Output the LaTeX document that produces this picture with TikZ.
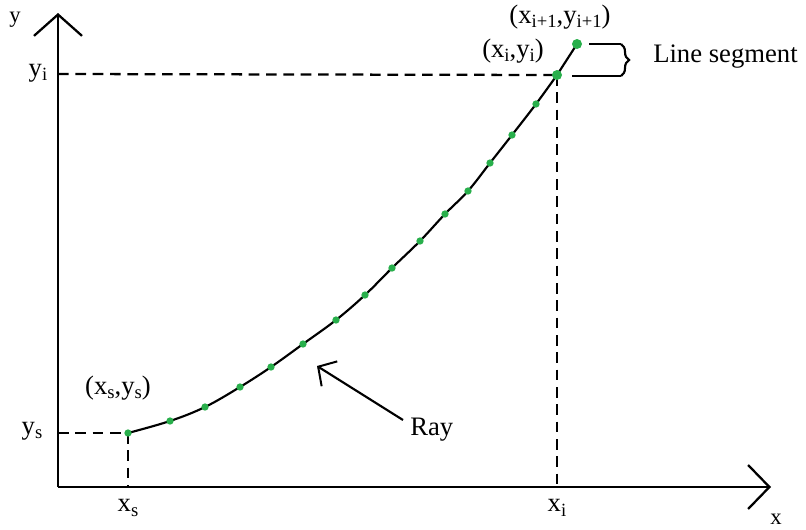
\documentclass[tikz,border=0pt]{standalone}
\usepackage{fontspec}
\setmainfont{Liberation Serif}
\usetikzlibrary{arrows.meta,decorations.pathreplacing}
\definecolor{dotgreen}{RGB}{40,175,75}
\newcommand\lsub[1]{\raisebox{-0.35ex}{\fontsize{14}{14}\selectfont #1}}
\tikzset{
  axis/.style={line width=2pt},
  dashline/.style={line width=1.7pt, dash pattern=on 8pt off 5pt},
  curve/.style={line width=1.6pt},
  pt/.style={circle, fill=dotgreen, inner sep=0pt, minimum size=5.5pt},
  bigpt/.style={circle, fill=dotgreen, inner sep=0pt, minimum size=7.5pt},
  lbl/.style={inner sep=0pt, font=\fontsize{20}{24}\selectfont},
  axlbl/.style={inner sep=0pt, font=\fontsize{17}{20}\selectfont},
}
\begin{document}
\begin{tikzpicture}[x=0.75pt,y=-0.75pt]
\useasboundingbox (0,0) rectangle (806,529);
% axes
\coordinate (O) at (58,487);
\coordinate (ytop) at (58,13);
\coordinate (xend) at (771,487);
\draw[axis,-{Straight Barb[length=16pt,width=36pt,line width=1.7pt]}] (O) -- (ytop);
\draw[axis,-{Straight Barb[length=16pt,width=33pt,line width=1.7pt]}] (O) -- (xend);
\node[axlbl] (ylab) at (15,20) {y};
\node[axlbl] (xlab) at (776,519) {x};
% points
\coordinate (p1) at (128,433);
\coordinate (p2) at (170,421);
\coordinate (p3) at (205,407);
\coordinate (p4) at (240,387);
\coordinate (p5) at (271,367);
\coordinate (p6) at (303,344);
\coordinate (p7) at (336,320);
\coordinate (p8) at (365,295);
\coordinate (p9) at (392,268);
\coordinate (p10) at (420,241);
\coordinate (p11) at (445,214);
\coordinate (p12) at (468,191);
\coordinate (p13) at (490,163);
\coordinate (p14) at (512,135);
\coordinate (p15) at (536,104);
\coordinate (p16) at (557,75);
\coordinate (p17) at (577,44);
% dashed guides
\coordinate (ys) at (58,433);
\coordinate (xs) at (128,487);
\coordinate (yi) at (58,74);
\coordinate (xi) at (557,487);
\draw[dashline] (ys) -- (p1);
\draw[dashline] (p1) -- (xs);
\draw[dashline] (yi) -- (p16);
\draw[dashline] (p16) -- (xi);
% curve
\draw[curve] plot[smooth, tension=0.6] coordinates {(p1) (p2) (p3) (p4) (p5) (p6) (p7) (p8) (p9) (p10) (p11) (p12) (p13) (p14) (p15) (p16)};
\draw[curve] (p16) -- (p17);
% dots
\foreach \i in {1,...,15} \node[pt] (d\i) at (p\i) {};
\node[bigpt] (d16) at (p16) {};
\node[bigpt] (d17) at (p17) {};
% line segment brace
\coordinate (bt) at (621,44);
\coordinate (bb) at (621,76);
\coordinate (bt0) at (589,44);
\coordinate (bb0) at (572,76);
\draw[curve] (bt0) -- (bt);
\draw[curve] (bb0) -- (bb);
\draw[curve, decorate, decoration={brace, amplitude=6pt}] (bt) -- (bb);
\node[lbl, anchor=west] (lseg) at (653,57) {Line segment};
% labels
\node[lbl] (lyi) at (38,73) {y\lsub{i}};
\node[lbl] (lys) at (32,431) {y\lsub{s}};
\node[lbl] (lxs) at (128,508) {x\lsub{s}};
\node[lbl] (lxi) at (557,508) {x\lsub{i}};
\node[lbl] (lps) at (118,388) {(x\lsub{s},y\lsub{s})};
\node[lbl] (lpi) at (513,51) {(x\lsub{i},y\lsub{i})};
\node[lbl] (lpn) at (560,17) {(x\lsub{i+1},y\lsub{i+1})};
% ray
\node[lbl, anchor=west] (ray) at (410,430) {Ray};
\coordinate (raytip) at (317,366);
\coordinate (raystart) at (403,420);
\draw[curve,-{Straight Barb[length=10pt,width=22pt,line width=1.5pt]}] (raystart) -- (raytip);
\end{tikzpicture}
\end{document}
